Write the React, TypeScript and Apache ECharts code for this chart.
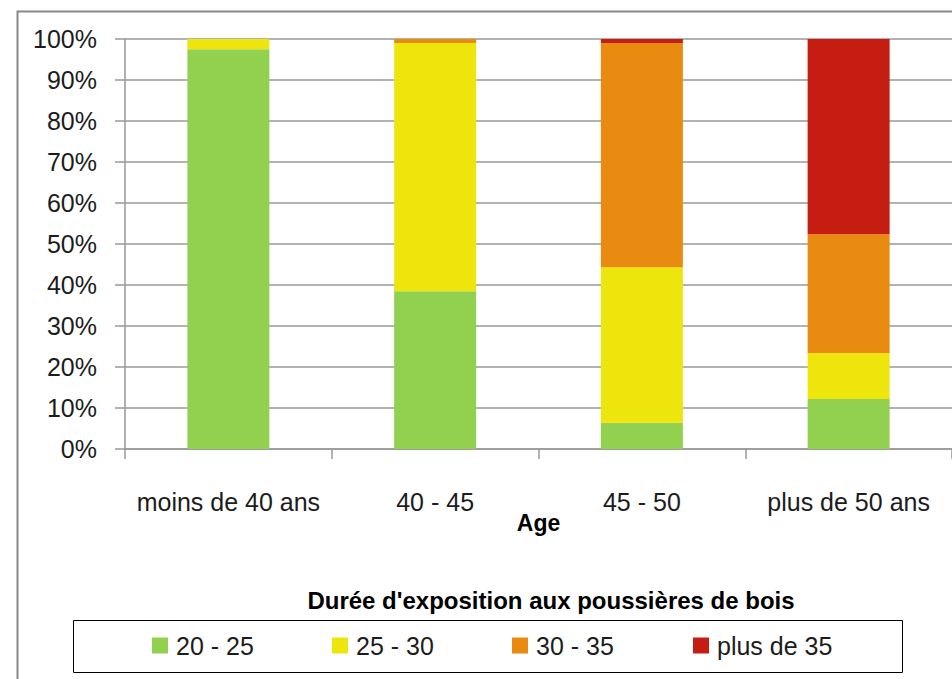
import React, { useEffect, useRef } from "react";
import * as echarts from "echarts";

const categories = ["moins de 40 ans", "40 - 45", "45 - 50", "plus de 50 ans"];
const seriesNames = ["20 - 25", "25 - 30", "30 - 35", "plus de 35"];
const green = [97.5, 38.5, 6.4, 12.2];
const yellow = [2.5, 60.5, 37.9, 11.2];
const orange = [0, 1.0, 54.7, 29.0];
const red = [0, 0, 1.0, 47.6];
const colors = ["#92D050", "#EEE50C", "#E88B10", "#C61D12"];
const xAxisTitle = "Age";
const legendTitle = "Durée d'exposition aux poussières de bois";

const FONT = "'Liberation Sans', Arial, sans-serif";
const TEXT = "#1c1c1c";

export default function App() {
  const ref = useRef<HTMLDivElement>(null);
  useEffect(() => {
    if (!ref.current) return;
    const chart = echarts.init(ref.current, null, { renderer: "svg" });
    const values = [green, yellow, orange, red];
    const legendLefts = [152, 332, 512, 693];
    chart.setOption({
      animation: false,
      backgroundColor: "#ffffff",
      textStyle: { fontFamily: FONT },
      grid: { left: 125, top: 39, width: 828, height: 410, containLabel: false },
      xAxis: {
        type: "category",
        data: categories,
        name: xAxisTitle,
        nameLocation: "middle",
        nameGap: 62,
        nameMoveOverlap: false,
        nameTextStyle: { fontFamily: FONT, fontSize: 23, fontWeight: "bold", color: "#000" },
        axisLine: { lineStyle: { color: "#999", width: 1.5 } },
        axisTick: { show: true, interval: 0, length: 10, lineStyle: { color: "#999", width: 1.5 } },
        axisLabel: { interval: 0, fontFamily: FONT, fontSize: 25, color: TEXT, margin: 40 },
        splitLine: { show: false },
      },
      yAxis: {
        type: "value",
        min: 0,
        max: 100,
        interval: 10,
        axisLine: { show: true, lineStyle: { color: "#999", width: 1.5 } },
        axisTick: { show: true, length: 10, lineStyle: { color: "#999", width: 1.5 } },
        axisLabel: { fontFamily: FONT, fontSize: 25, color: TEXT, margin: 28, formatter: "{value}%" },
        splitLine: { show: true, lineStyle: { color: "#999", width: 1.5 } },
      },
      legend: seriesNames.map((n, i) => ({
        data: [n],
        left: legendLefts[i],
        top: 633,
        orient: "horizontal",
        icon: "rect",
        itemWidth: 16,
        itemHeight: 16,
        selectedMode: false,
        padding: 0,
        textStyle: { fontFamily: FONT, fontSize: 25, color: TEXT, padding: [0, 0, 0, 3] },
      })),
      series: seriesNames.map((n, i) => ({
        name: n,
        type: "bar",
        stack: "total",
        barWidth: 82,
        data: values[i],
        itemStyle: { color: colors[i] },
        emphasis: { disabled: true },
      })),
      graphic: [
        {
          type: "rect",
          left: 15,
          top: 9,
          shape: { x: 0, y: 0, width: 960, height: 700 },
          style: { fill: "none", stroke: "#888", lineWidth: 2 },
          silent: true,
          z: 100,
        },
        {
          type: "rect",
          shape: { x: 73.5, y: 620.5, width: 829, height: 52 },
          style: { fill: "none", stroke: "#000", lineWidth: 1 },
          silent: true,
        },
        {
          type: "text",
          x: 551,
          y: 600,
          style: {
            text: legendTitle,
            fontFamily: FONT,
            fontSize: 24,
            fontWeight: "bold",
            fill: "#000",
            align: "center",
            verticalAlign: "middle",
          },
          silent: true,
        },
      ],
    });
    return () => chart.dispose();
  }, []);
  return (
    <div
      ref={ref}
      style={{ position: "fixed", left: 0, top: 0, width: 952, height: 679, background: "#fff" }}
    />
  );
}
